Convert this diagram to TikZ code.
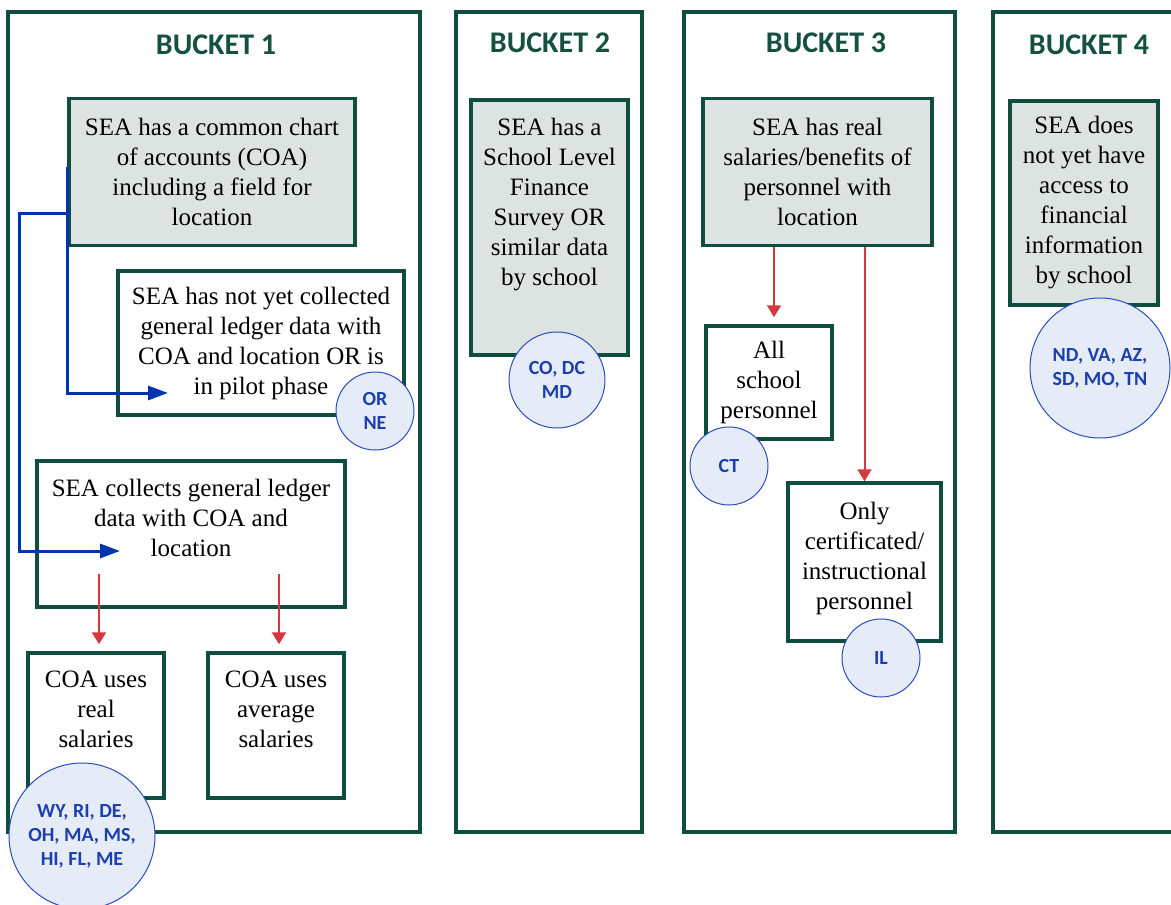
\documentclass[tikz,border=0pt]{standalone}
\usepackage{fontspec}
\setmainfont{Liberation Serif}
\newfontfamily\calib{Carlito}
\usepackage{tikz}
\usetikzlibrary{arrows.meta,positioning}
\definecolor{bucketgreen}{HTML}{0F4D3F}
\definecolor{titlegreen}{HTML}{14513F}
\definecolor{boxgray}{HTML}{DCE3E0}
\definecolor{statefill}{HTML}{E6ECF7}
\definecolor{stateblue}{HTML}{2A4CC0}
\definecolor{statetext}{HTML}{1B3FAF}
\definecolor{flowblue}{HTML}{0033B0}
\definecolor{splitred}{HTML}{D3393C}
\tikzset{
  bucket/.style={draw=bucketgreen,line width=3.5pt},
  heading/.style={text=titlegreen,font=\calib\bfseries\fontsize{30}{32}\selectfont},
  stepbox/.style={draw=bucketgreen,line width=3.5pt,fill=white,inner sep=0pt,align=center,
    font=\fontsize{25}{30}\selectfont},
  sharedbox/.style={stepbox,fill=boxgray},
  boxtext/.style={inner sep=0pt,align=center,font=\fontsize{25}{30}\selectfont},
  states/.style={circle,draw=stateblue,line width=1pt,fill=statefill,text=statetext,inner sep=0pt,
    align=center,font=\calib\bfseries\fontsize{20}{24}\selectfont},
  flow/.style={draw=flowblue,line width=3pt,-{Triangle[length=20pt,width=14pt]}},
  split/.style={draw=splitred,line width=2pt,-{Triangle[length=12pt,width=14pt]}},
}

\begin{document}
\begin{tikzpicture}[x=1pt,y=-1pt]
\clip (0,0) rectangle (1171,905);
\fill[white] (0,0) rectangle (1171,905);
% the four buckets
\draw[bucket] (8,12) rectangle (420,832);
\draw[bucket] (456,12) rectangle (642,832);
\draw[bucket] (684,12) rectangle (955,832);
\draw[bucket] (993,12) rectangle (1200,832);
\node[heading] (b1) at (216,45) {BUCKET 1};
\node[heading] (b2) at (550,43) {BUCKET 2};
\node[heading] (b3) at (826,43) {BUCKET 3};
\node[heading] (b4) at (1089,45) {BUCKET 4};

% bucket 1
\node[sharedbox,minimum width=286,minimum height=147] (coa) at (212,172)
  {SEA has a common chart\\of accounts (COA)\\including a field for\\location};
\node[stepbox,minimum width=286,minimum height=144] (pilot) at (261,343)
  {SEA has not yet collected\\general ledger data with\\COA and location OR is\\in pilot phase};
\node[stepbox,minimum width=308,minimum height=146] (collect) at (191,534) {};
\node[boxtext,below=20pt of collect.north] (collecttxt) {SEA collects general ledger\\data with COA and\\location};
\node[stepbox,minimum width=136,minimum height=145] (real) at (96,725.5) {};
\node[boxtext,below=19pt of real.north] (realtxt) {COA uses\\real\\salaries};
\node[stepbox,minimum width=136,minimum height=145] (average) at (276,725.5) {};
\node[boxtext,below=19pt of average.north] (averagetxt) {COA uses\\average\\salaries};
\coordinate (tipB) at (168,393);
\coordinate (tipC) at (120,551);
\draw[flow] ([yshift=5pt]coa.west) |- (tipB);
\draw[flow] ([yshift=-41pt]coa.west) -- ++(-48,0) |- (tipC);
\draw[split] ([xshift=3pt,yshift=35pt]real.north |- collect.south) -- ([xshift=3pt,yshift=7pt]real.north);
\draw[split] ([xshift=3pt,yshift=35pt]average.north |- collect.south) -- ([xshift=3pt,yshift=7pt]average.north);
\node[states,minimum size=78] (orne) at (375,411) {OR\\NE};
\node[states,minimum size=146] (wyri) at (82,836) {WY, RI, DE,\\OH, MA, MS,\\HI, FL, ME};

% bucket 2
\node[sharedbox,minimum width=157,minimum height=255] (survey) at (549.5,227.5) {};
\node[boxtext,below=20pt of survey.north] (surveytxt) {SEA has a\\School Level\\Finance\\Survey OR\\similar data\\by school};
\node[states,minimum size=96] (codc) at (557,380) {CO, DC\\MD};

% bucket 3
\node[sharedbox,minimum width=229,minimum height=147] (salaries) at (817.5,172)
  {SEA has real\\salaries/benefits of\\personnel with\\location};
\node[stepbox,minimum width=126,minimum height=113] (allstaff) at (769,382.5)
  {All\\school\\personnel};
\node[stepbox,minimum width=153,minimum height=158] (certified) at (864.5,562) {};
\node[boxtext,below=21pt of certified.north] (certifiedtxt) {Only\\certificated/\\instructional\\personnel};
\draw[split] ([xshift=5pt]allstaff.north |- salaries.south) -- ([xshift=5pt,yshift=7pt]allstaff.north);
\draw[split] (certified.north |- salaries.south) -- (certified.north);
\node[states,minimum size=78] (ct) at (729,466) {CT};
\node[states,minimum size=78] (il) at (881,658) {IL};

% bucket 4
\node[sharedbox,minimum width=148,minimum height=204] (noaccess) at (1084,203)
  {SEA does\\not yet have\\access to\\financial\\information\\by school};
\node[states,minimum size=140] (ndva) at (1100,368) {ND, VA, AZ,\\SD, MO, TN};
\end{tikzpicture}
\end{document}
